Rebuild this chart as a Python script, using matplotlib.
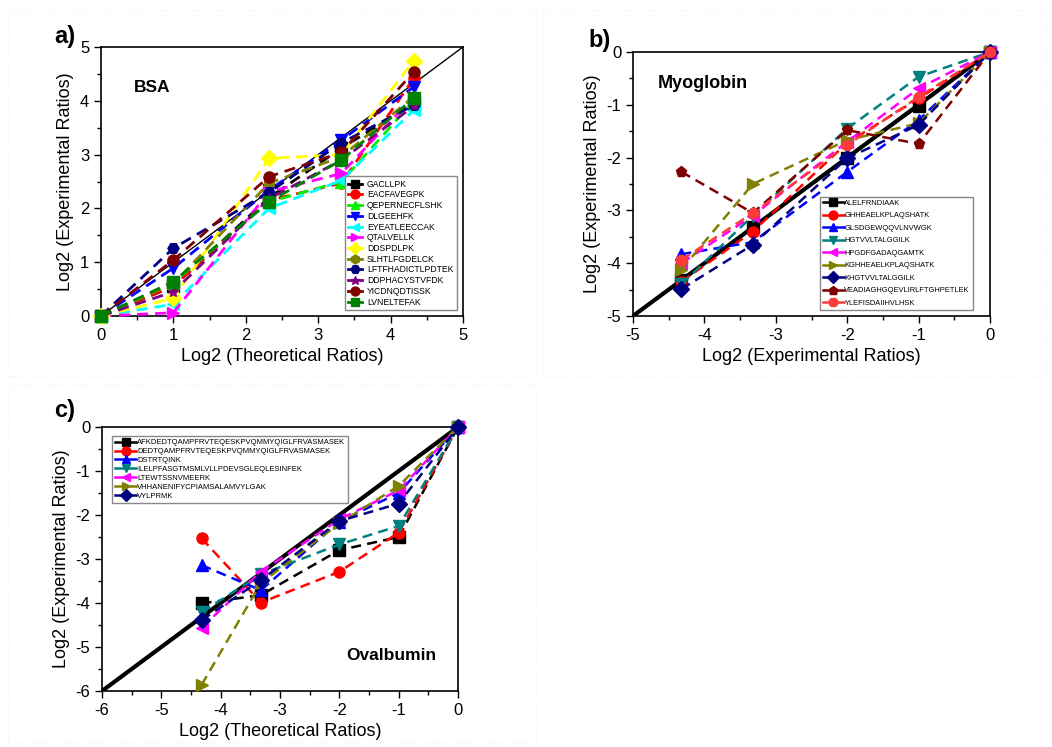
import numpy as np
import matplotlib
matplotlib.use("Agg")
import matplotlib.pyplot as plt
from matplotlib.lines import Line2D
from matplotlib.ticker import MultipleLocator
from matplotlib.patches import Rectangle

plt.rcParams['font.family'] = ['Liberation Sans', 'DejaVu Sans']
plt.rcParams['axes.unicode_minus'] = False

# ---- data ----
# theoretical log2 ratios (1,2,5,10,20) and (1/20 ... 1)
x_bsa = [0, 1, np.log2(5), np.log2(10), np.log2(20)]
x_neg = [-np.log2(20), -np.log2(10), -2, -1, 0]

bsa_names = ["GACLLPK", "EACFAVEGPK", "QEPERNECFLSHK", "DLGEEHFK", "EYEATLEECCAK",
             "QTALVELLK", "DDSPDLPK", "SLHTLFGDELCK", "LFTFHADICTLPDTEK",
             "DDPHACYSTVFDK", "YICDNQDTISSK", "LVNELTEFAK"]
bsa_vals = [
    [0, 0.55, 2.20, 3.12, 3.95],
    [0, 0.55, 2.15, 2.47, 4.42],
    [0, 0.62, 2.12, 2.50, 4.00],
    [0, 0.89, 2.34, 3.27, 4.26],
    [0, 0.22, 2.00, 2.52, 3.83],
    [0, 0.06, 2.31, 2.65, 4.08],
    [0, 0.33, 2.93, 3.00, 4.75],
    [0, 0.60, 2.47, 2.96, 4.08],
    [0, 1.26, 2.30, 3.22, 3.92],
    [0, 0.45, 2.18, 2.90, 3.90],
    [0, 1.04, 2.59, 3.04, 4.54],
    [0, 0.64, 2.12, 2.90, 4.05],
]
bsa_colors = ["black", "red", "#00ee00", "blue", "cyan", "magenta", "yellow",
              "#808000", "#000080", "#800080", "#800000", "#008000"]
bsa_markers = ["s", "o", "^", "v", "<", ">", "D", "h", "H", "*", "o", "s"]

myo_names = ["ALELFRNDIAAK", "GHHEAELKPLAQSHATK", "GLSDGEWQQVLNVWGK", "HGTVVLTALGGILK",
             "HPGDFGADAQGAMTK", "KGHHEAELKPLAQSHATK", "KHGTVVLTALGGILK",
             "VEADIAGHGQEVLIRLFTGHPETLEK", "YLEFISDAIIHVLHSK"]
myo_vals = [
    [-4.32, -3.31, -2.01, -1.02, 0],
    [-4.35, -3.40, -1.72, -0.88, 0],
    [-3.83, -3.60, -2.27, -1.29, 0],
    [-4.40, -3.10, -1.45, -0.47, 0],
    [-4.00, -3.10, -1.70, -0.69, 0],
    [-4.12, -2.50, -1.67, -1.35, 0],
    [-4.49, -3.65, -2.01, -1.38, 0],
    [-2.27, -3.05, -1.48, -1.74, 0],
    [-3.94, -3.05, -1.76, -0.85, 0],
]
myo_colors = ["black", "red", "blue", "#008080", "magenta", "#808000", "#000080",
              "#800000", "#ff3a3a"]
myo_markers = ["s", "o", "^", "v", "<", ">", "D", "p", "8"]

ova_names = ["AFKDEDTQAMPFRVTEQESKPVQMMYQIGLFRVASMASEK",
             "DEDTQAMPFRVTEQESKPVQMMYQIGLFRVASMASEK", "DSTRTQINK",
             "ILELPFASGTMSMLVLLPDEVSGLEQLESINFEK", "LTEWTSSNVMEERK",
             "VHHANENIFYCPIAMSALAMVYLGAK", "VYLPRMK"]
ova_vals = [
    [-4.01, -3.82, -2.80, -2.50, 0],
    [-2.53, -3.99, -3.29, -2.40, 0],
    [-3.14, -3.71, -2.15, -1.50, 0],
    [-4.21, -3.35, -2.67, -2.25, 0],
    [-4.56, -3.29, -2.10, -1.44, 0],
    [-5.86, -3.55, -2.19, -1.34, 0],
    [-4.39, -3.48, -2.14, -1.74, 0],
]
ova_colors = ["black", "red", "blue", "#008080", "magenta", "#808000", "#000080"]
ova_markers = ["s", "o", "^", "v", "<", ">", "D"]

fig = plt.figure(figsize=(10.52, 7.47), dpi=100)

# faint panel frames
for (x0, y0, x1, y1) in [(8, 10, 536, 376), (543, 10, 1046, 376), (8, 385, 536, 742)]:
    fig.patches.append(Rectangle((x0 / 1052, 1 - y1 / 747), (x1 - x0) / 1052, (y1 - y0) / 747,
                                 transform=fig.transFigure, fill=False,
                                 ec="#f2f2f2", lw=0.8, ls=":"))


def style_axes(ax):
    ax.xaxis.set_major_locator(MultipleLocator(1))
    ax.xaxis.set_minor_locator(MultipleLocator(0.5))
    ax.yaxis.set_major_locator(MultipleLocator(1))
    ax.yaxis.set_minor_locator(MultipleLocator(0.5))
    ax.tick_params(which="both", direction="out", top=False, right=False, labelsize=12)
    ax.tick_params(which="major", length=5, width=1)
    ax.tick_params(which="minor", length=3, width=1)
    for s in ax.spines.values():
        s.set_linewidth(1.2)


def draw_series(ax, x, vals, colors, markers, names, ms, lw):
    handles = []
    for v, c, m, n in zip(vals, colors, markers, names):
        ax.plot(x, v, ls=(0, (4, 2.5)), color=c, lw=lw, marker=m, ms=ms,
                clip_on=False, zorder=3)
        handles.append(Line2D([], [], color=c, lw=lw, marker=m, ms=ms * 0.8, label=n))
    return handles


# panel a
axa = fig.add_axes([0.096, 0.577, 0.344, 0.360])
axa.plot([0, 5], [0, 5], color="black", lw=1, zorder=2)
h = draw_series(axa, x_bsa, bsa_vals, bsa_colors, bsa_markers, bsa_names, 8, 2)
axa.set_xlim(0, 5)
axa.set_ylim(0, 5)
style_axes(axa)
axa.set_xlabel("Log2 (Theoretical Ratios)", fontsize=13)
axa.set_ylabel("Log2 (Experimental Ratios)", fontsize=13)
axa.text(0.09, 0.85, "BSA", transform=axa.transAxes, fontsize=12.5, fontweight="bold", va="center")
axa.legend(handles=h, loc="lower right", bbox_to_anchor=(0.983, 0.022), borderaxespad=0,
           fontsize=6.2, handlelength=1.6, labelspacing=0.2, handletextpad=0.6,
           fancybox=False, edgecolor="#888888", framealpha=1)

# panel b
axb = fig.add_axes([0.6017, 0.577, 0.3394, 0.3534])
axb.plot([-5, 0], [-5, 0], color="black", lw=3, zorder=2)
h = draw_series(axb, x_neg, myo_vals, myo_colors, myo_markers, myo_names, 8, 1.8)
axb.set_xlim(-5, 0)
axb.set_ylim(-5, 0)
style_axes(axb)
axb.set_xlabel("Log2 (Experimental Ratios)", fontsize=13)
axb.set_ylabel("Log2 (Experimental Ratios)", fontsize=13)
axb.text(0.07, 0.88, "Myoglobin", transform=axb.transAxes, fontsize=13, fontweight="bold", va="center")
axb.legend(handles=h, loc="lower right", bbox_to_anchor=(0.952, 0.023), borderaxespad=0,
           fontsize=5.4, handlelength=2.8, labelspacing=0.7, handletextpad=0.1,
           fancybox=False, edgecolor="#888888", framealpha=1)

# panel c
axc = fig.add_axes([0.097, 0.075, 0.3384, 0.3534])
axc.plot([-6, 0], [-6, 0], color="black", lw=3, zorder=2)
h = draw_series(axc, x_neg, ova_vals, ova_colors, ova_markers, ova_names, 8, 1.8)
axc.set_xlim(-6, 0)
axc.set_ylim(-6, 0)
style_axes(axc)
axc.set_xlabel("Log2 (Theoretical Ratios)", fontsize=13)
axc.set_ylabel("Log2 (Experimental Ratios)", fontsize=13)
axc.text(0.685, 0.136, "Ovalbumin", transform=axc.transAxes, fontsize=12.5, fontweight="bold", va="center")
axc.legend(handles=h, loc="upper left", bbox_to_anchor=(0.028, 0.966), borderaxespad=0,
           fontsize=5.5, handlelength=2.8, labelspacing=0.2, handletextpad=0.1,
           fancybox=False, edgecolor="#888888", framealpha=1)

fig.text(65 / 1052, 1 - 36 / 747, "a)", fontsize=17, fontweight="bold", ha="center", va="center")
fig.text(600 / 1052, 1 - 40 / 747, "b)", fontsize=17, fontweight="bold", ha="center", va="center")
fig.text(65 / 1052, 1 - 410 / 747, "c)", fontsize=17, fontweight="bold", ha="center", va="center")

fig.savefig("out.png", dpi=100)
